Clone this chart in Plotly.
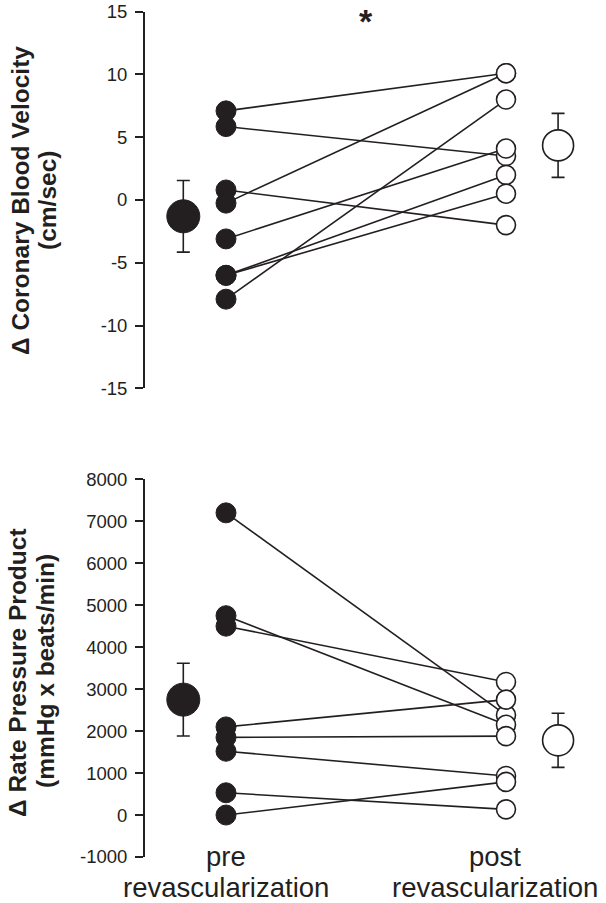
import plotly.graph_objects as go

# ---------------- data ----------------
categories = ["pre<br>revascularization", "post<br>revascularization"]

cbv_pre = [7.1, 5.85, 0.8, -0.25, -3.1, -6.0, -6.0, -7.9]
cbv_post = [10.1, 3.5, -2.0, 10.1, 4.1, 2.0, 0.5, 8.0]
cbv_mean = [-1.3, 4.35]
cbv_err = [2.85, 2.55]

rpp_pre = [7200, 4750, 4500, 2100, 1850, 1520, 530, 0]
rpp_post = [2380, 2150, 3170, 2750, 1880, 930, 135, 790]
rpp_mean = [2750, 1780]
rpp_err = [865, 645]

cbv_tickvals = [-15, -10, -5, 0, 5, 10, 15]
cbv_ticktext = ["-15", "-10", "-5", "0", "5", "10", "15"]
rpp_tickvals = [-1000, 0, 1000, 2000, 3000, 4000, 5000, 6000, 7000, 8000]
rpp_ticktext = ["-1000", "0", "1000", "2000", "3000", "4000", "5000", "6000", "7000", "8000"]

cbv_title = ["\u0394 Coronary Blood Velocity", "(cm/sec)"]
rpp_title = ["\u0394 Rate Pressure Product", "(mmHg x beats/min)"]

# ---------------- layout constants ----------------
W, H = 606, 903
X_PRE, X_POST = 1.0, 2.0
X_MEAN = [0.8475, 2.186]
INK = "#231f20"
FONT = "Liberation Sans, Arial, Helvetica, sans-serif"


def px_x(p):
    return p / W


def px_y(p):
    return 1 - p / H


fig = go.Figure()


def add_panel(pre, post, mean, err, xa, ya):
    lx, ly = [], []
    for a, b in zip(pre, post):
        lx += [X_PRE, X_POST, None]
        ly += [a, b, None]
    fig.add_trace(go.Scatter(x=lx, y=ly, mode="lines", xaxis=xa, yaxis=ya,
                             line=dict(color=INK, width=1.6), hoverinfo="skip",
                             showlegend=False, cliponaxis=False))
    fig.add_trace(go.Scatter(x=[X_PRE] * len(pre), y=pre, mode="markers", xaxis=xa, yaxis=ya,
                             marker=dict(size=20, color=INK, line=dict(color=INK, width=1)),
                             showlegend=False, cliponaxis=False))
    fig.add_trace(go.Scatter(x=[X_POST] * len(post), y=post, mode="markers", xaxis=xa, yaxis=ya,
                             marker=dict(size=19, color="white", line=dict(color=INK, width=1.6)),
                             showlegend=False, cliponaxis=False))
    # means with SE bars
    fig.add_trace(go.Scatter(x=[X_MEAN[0]], y=[mean[0]], mode="markers", xaxis=xa, yaxis=ya,
                             marker=dict(size=33, color=INK, line=dict(color=INK, width=1)),
                             error_y=dict(type="data", array=[err[0]], color=INK, thickness=1.6, width=6.5),
                             showlegend=False, cliponaxis=False))
    fig.add_trace(go.Scatter(x=[X_MEAN[1]], y=[mean[1]], mode="markers", xaxis=xa, yaxis=ya,
                             marker=dict(size=31, color="white", line=dict(color=INK, width=1.6)),
                             error_y=dict(type="data", array=[err[1]], color=INK, thickness=1.6, width=6.5),
                             showlegend=False, cliponaxis=False))


add_panel(cbv_pre, cbv_post, cbv_mean, cbv_err, "x", "y")
add_panel(rpp_pre, rpp_post, rpp_mean, rpp_err, "x2", "y2")

x_left, x_right = 145, 600
xr = [X_PRE - (226 - x_left) / 280, X_POST + (x_right - 506) / 280]
xdom = [px_x(x_left), px_x(x_right)]

xcommon = dict(range=xr, domain=xdom, showline=False, showgrid=False, zeroline=False,
               showticklabels=False, ticks="", fixedrange=True, automargin=False)
ycommon = dict(showline=True, linecolor=INK, linewidth=1.8, ticks="outside", ticklen=8,
               tickwidth=1.6, tickcolor=INK, showgrid=False, zeroline=False, automargin=False,
               tickfont=dict(family=FONT, size=18.5, color=INK), ticklabelstandoff=4)

fig.update_layout(
    width=W, height=H,
    margin=dict(l=0, r=0, t=0, b=0, autoexpand=False),
    paper_bgcolor="white", plot_bgcolor="white",
    showlegend=False,
    xaxis=dict(**xcommon, anchor="y"),
    yaxis=dict(**ycommon, range=[-15, 15], domain=[px_y(388.3), px_y(11.7)],
               tickvals=cbv_tickvals, ticktext=cbv_ticktext, anchor="x"),
    xaxis2=dict(**xcommon, anchor="y2"),
    yaxis2=dict(**ycommon, range=[-1000, 8000], domain=[px_y(857), px_y(479.3)],
                tickvals=rpp_tickvals, ticktext=rpp_ticktext, anchor="x2"),
)

ann = []
# y-axis titles (two bold lines each, rotated)
for txt, xp, yp in [(cbv_title[0], 20, 201), (cbv_title[1], 47, 201),
                    (rpp_title[0], 17, 673), (rpp_title[1], 45, 671)]:
    ann.append(dict(text="<b>" + txt + "</b>", x=px_x(xp), y=px_y(yp), xref="paper", yref="paper",
                    textangle=-90, showarrow=False, xanchor="center", yanchor="middle",
                    font=dict(family=FONT, size=24.5, color=INK)))
# category labels, one annotation per line
for cat, xv in zip(categories, [X_PRE, X_POST - 0.04]):
    for line, yp in zip(cat.split("<br>"), [856, 887]):
        ann.append(dict(text=line, x=xv, y=px_y(yp), xref="x2", yref="paper", showarrow=False,
                        xanchor="center", yanchor="middle",
                        font=dict(family=FONT, size=27.5, color=INK)))
# significance star
ann.append(dict(text="<b>*</b>", x=px_x(366), y=px_y(21), xref="paper", yref="paper",
                showarrow=False, xanchor="center", yanchor="middle",
                font=dict(family=FONT, size=34, color=INK)))
fig.update_layout(annotations=ann)

fig.write_html("out.html", config={"displayModeBar": False},
               post_script="document.body.style.margin='0';")
